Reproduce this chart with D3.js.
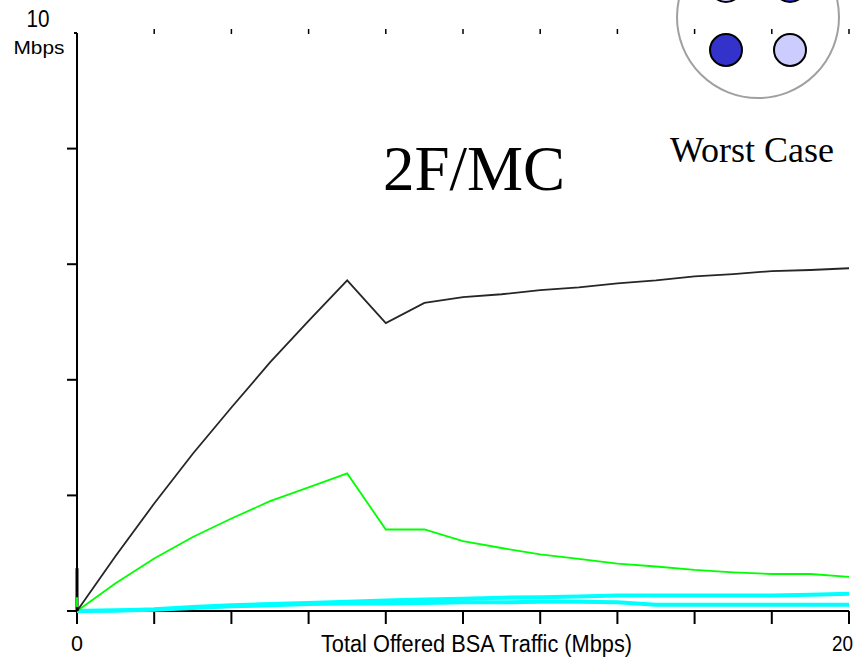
<!DOCTYPE html>
<html>
<head>
<meta charset="utf-8">
<script src="https://cdn.jsdelivr.net/npm/d3@7"></script>
<style>
  html, body { margin: 0; padding: 0; background: #fff; }
  svg { display: block; }
</style>
</head>
<body>
<svg id="chart" width="857" height="657"></svg>
<script>
// offered load, Mbps
const offered = [0, 1, 2, 3, 4, 5, 6, 7, 8, 9, 10, 11, 12, 13, 14, 15, 16, 17, 18, 19, 20];

// throughput series, Mbps
const totalThroughput = [0, 0.95, 1.86, 2.72, 3.52, 4.3, 5.02, 5.72, 4.98, 5.33, 5.43, 5.48, 5.55, 5.6, 5.67, 5.72, 5.79, 5.83, 5.88, 5.9, 5.93];
const greenThroughput = [0, 0.48, 0.91, 1.28, 1.6, 1.9, 2.14, 2.38, 1.41, 1.41, 1.21, 1.09, 0.98, 0.9, 0.82, 0.77, 0.71, 0.67, 0.64, 0.64, 0.59];
const cyanUpper = [0, 0.01, 0.03, 0.07, 0.1, 0.12, 0.14, 0.16, 0.18, 0.2, 0.21, 0.23, 0.24, 0.25, 0.27, 0.27, 0.27, 0.27, 0.27, 0.28, 0.3];
const cyanLower = [0, 0.01, 0.02, 0.05, 0.08, 0.1, 0.12, 0.13, 0.13, 0.14, 0.15, 0.15, 0.16, 0.16, 0.15, 0.11, 0.11, 0.11, 0.11, 0.11, 0.11];

// short spikes drawn at x = 0
const spikeBlack = [[0, 0], [0, 0.74]];
const spikeGreen = [[0, 0.07], [0, 0.24]];

const xTicks = [0, 2, 4, 6, 8, 10, 12, 14, 16, 18, 20];
const yTicks = [0, 2, 4, 6, 8];

const svg = d3.select('#chart');

const x = d3.scaleLinear().domain([0, 20]).range([77, 849]);
const y = d3.scaleLinear().domain([0, 10]).range([611, 33]);

const line = d3.line()
  .x(d => x(d[0]))
  .y(d => y(d[1]));

const zip = vals => offered.map((o, i) => [o, vals[i]]);

// station picture in the corner
const deco = svg.append('g');
deco.append('circle')
  .attr('cx', 758).attr('cy', 17).attr('r', 81)
  .attr('fill', 'none')
  .attr('stroke', '#a0a0a0')
  .attr('stroke-width', 2);

const stations = [
  { cx: 726, cy: -14, fill: '#ccccff' },
  { cx: 790, cy: -14, fill: '#3333cc' },
  { cx: 726, cy: 50, fill: '#3333cc' },
  { cx: 790, cy: 50, fill: '#ccccff' }
];
deco.selectAll('.sta')
  .data(stations)
  .enter().append('circle')
  .attr('class', 'sta')
  .attr('cx', d => d.cx).attr('cy', d => d.cy).attr('r', 16)
  .attr('fill', d => d.fill)
  .attr('stroke', '#000')
  .attr('stroke-width', 2);

svg.append('text')
  .attr('x', 670).attr('y', 162)
  .style('font-family', '"Liberation Serif", "Times New Roman", serif')
  .style('font-size', '36px')
  .text('Worst Case');

svg.append('text')
  .attr('x', 383).attr('y', 190)
  .style('font-family', '"Liberation Serif", "Times New Roman", serif')
  .style('font-size', '63px')
  .text('2F/MC');

// Axes
const axisG = svg.append('g')
  .attr('stroke', '#000')
  .attr('stroke-width', 2)
  .attr('fill', 'none');

axisG.append('line')
  .attr('x1', x(0)).attr('x2', x(0))
  .attr('y1', y(10)).attr('y2', y(0) + 13);
axisG.append('line')
  .attr('x1', x(0) - 10).attr('x2', x(20))
  .attr('y1', y(0)).attr('y2', y(0));
axisG.append('line')
  .attr('x1', x(0) - 3).attr('x2', x(0))
  .attr('y1', y(10)).attr('y2', y(10));

axisG.selectAll('.xt')
  .data(xTicks.slice(1))
  .enter().append('line')
  .attr('x1', d => x(d)).attr('x2', d => x(d))
  .attr('y1', y(0)).attr('y2', y(0) + 13);

axisG.selectAll('.yt')
  .data(yTicks.slice(1))
  .enter().append('line')
  .attr('x1', x(0) - 10).attr('x2', x(0))
  .attr('y1', d => y(d)).attr('y2', d => y(d));

// small marks along the top edge
axisG.selectAll('.tt')
  .data(xTicks.slice(1))
  .enter().append('line')
  .attr('stroke-width', 1.5)
  .attr('x1', d => x(d)).attr('x2', d => x(d))
  .attr('y1', 29).attr('y2', 34);

const labelFont = '"Liberation Sans", Arial, sans-serif';

function label(txt, px, py, size, width, anchor) {
  svg.append('text')
    .attr('x', px).attr('y', py)
    .attr('text-anchor', anchor || 'start')
    .style('font-family', labelFont)
    .style('font-size', size + 'px')
    .attr('textLength', width)
    .attr('lengthAdjust', 'spacingAndGlyphs')
    .text(txt);
}

label('0', x(0), 651, 22, 12, 'middle');
label('20', 853, 651, 22, 21, 'end');
label('Total Offered BSA Traffic (Mbps)', 321, 652, 23, 311);
label('10', 38, 27, 23, 23, 'middle');
label('Mbps', 39, 54, 19, 51, 'middle');

// Series
const series = [
  { data: zip(cyanLower), color: '#00ffff', width: 4 },
  { data: zip(cyanUpper), color: '#00ffff', width: 4 },
  { data: zip(greenThroughput), color: '#00ff00', width: 1.8 },
  { data: zip(totalThroughput), color: '#262626', width: 1.8 },
  { data: spikeBlack, color: '#000', width: 3 },
  { data: spikeGreen, color: '#00ff00', width: 2 }
];

svg.append('g').selectAll('path')
  .data(series)
  .enter().append('path')
  .attr('d', d => line(d.data))
  .attr('fill', 'none')
  .attr('stroke', d => d.color)
  .attr('stroke-width', d => d.width)
  .attr('stroke-linejoin', 'miter');
</script>
</body>
</html>
